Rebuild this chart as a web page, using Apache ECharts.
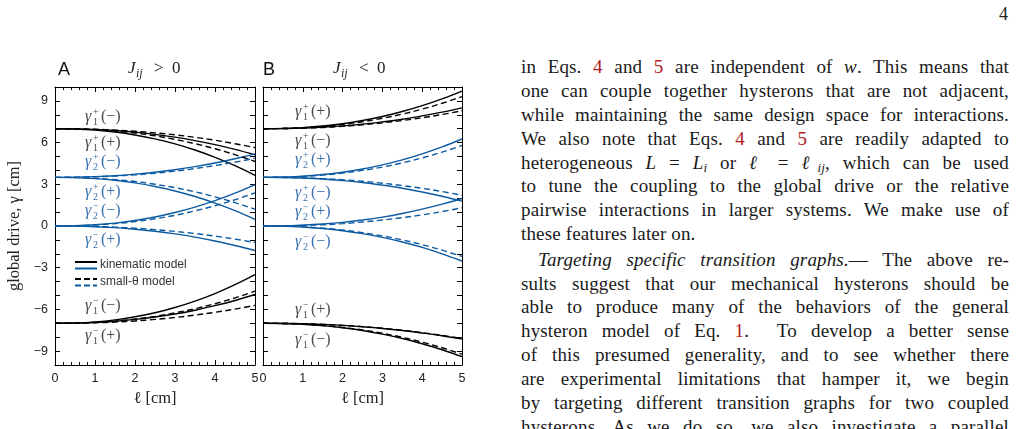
<!DOCTYPE html>
<html>
<head>
<meta charset="utf-8">
<script src="https://cdn.jsdelivr.net/npm/echarts@6/dist/echarts.min.js"></script>
<style>
  html, body { margin: 0; padding: 0; width: 1017px; height: 429px; overflow: hidden; background: #fff; }
  #chart { position: absolute; left: 0; top: 0; width: 500px; height: 429px; }
  #pageno { position: absolute; left: 999px; top: 4px; font: 18px "Liberation Serif", serif; color: #222; }
  .ln { position: absolute; left: 521px; width: 488px; height: 24px; line-height: 24px;
        font-family: "Liberation Serif", serif; font-size: 19px; letter-spacing: .15px; color: #1a1a1a;
        text-align: justify; text-align-last: justify; }
  .ln.last { text-align-last: left; }
  .r { color: #b01c1c; }
  sub { font-size: 13px; line-height: 0; vertical-align: -3px; }
</style>
</head>
<body>
<div id="chart"></div>
<div id="pageno">4</div>
<div class="ln" style="top:55px">in Eqs. <span class="r">4</span> and <span class="r">5</span> are independent of <i>w</i>. This means that</div>
<div class="ln" style="top:79px">one can couple together hysterons that are not adjacent,</div>
<div class="ln" style="top:103px">while maintaining the same design space for interactions.</div>
<div class="ln" style="top:127px">We also note that Eqs. <span class="r">4</span> and <span class="r">5</span> are readily adapted to</div>
<div class="ln" style="top:151px">heterogeneous <i>L</i> = <i>L<sub>i</sub></i> or <i>ℓ</i> = <i>ℓ<sub>ij</sub></i>, which can be used</div>
<div class="ln" style="top:174px">to tune the coupling to the global drive or the relative</div>
<div class="ln" style="top:198px">pairwise interactions in larger systems. We make use of</div>
<div class="ln last" style="top:222px">these features later on.</div>
<div class="ln" style="top:248px; left:538px; width:471px"><i>Targeting specific transition graphs.</i>— The above re-</div>
<div class="ln" style="top:272px">sults suggest that our mechanical hysterons should be</div>
<div class="ln" style="top:295px">able to produce many of the behaviors of the general</div>
<div class="ln" style="top:319px">hysteron model of Eq. <span class="r">1</span>.&nbsp; To develop a better sense</div>
<div class="ln" style="top:343px">of this presumed generality, and to see whether there</div>
<div class="ln" style="top:367px">are experimental limitations that hamper it, we begin</div>
<div class="ln" style="top:391px">by targeting different transition graphs for two coupled</div>
<div class="ln" style="top:415px">hysterons. As we do so, we also investigate a parallel</div>

<script>
  // sample positions along l [cm]
  const xs = [0, 0.5, 1, 1.5, 2, 2.5, 3, 3.5, 4, 4.5, 5];

  // panel A, J_ij > 0
  const aG1pKinA = [7, 6.99, 6.95, 6.87, 6.75, 6.59, 6.39, 6.14, 5.85, 5.51, 5.12];
  const aG1pKinB = [7, 6.98, 6.90, 6.76, 6.55, 6.27, 5.91, 5.47, 4.94, 4.34, 3.64];
  const aG1pSmA = [7, 6.99, 6.96, 6.90, 6.82, 6.70, 6.56, 6.38, 6.17, 5.92, 5.64];
  const aG1pSmB = [7, 6.99, 6.93, 6.83, 6.69, 6.49, 6.23, 5.92, 5.56, 5.13, 4.64];
  const aG2pKinUp = [3.5, 3.51, 3.55, 3.62, 3.73, 3.87, 4.05, 4.27, 4.53, 4.84, 5.19];
  const aG2pSmUp = [3.5, 3.51, 3.54, 3.60, 3.68, 3.80, 3.95, 4.13, 4.35, 4.59, 4.88];
  const aG2pKinDn = [3.5, 3.48, 3.41, 3.29, 3.10, 2.84, 2.52, 2.12, 1.65, 1.11, 0.48];
  const aG2pSmDn = [3.5, 3.49, 3.43, 3.34, 3.20, 3.00, 2.76, 2.46, 2.10, 1.68, 1.21];
  const aG2mKinUp = [0, 0.02, 0.09, 0.21, 0.40, 0.65, 0.97, 1.36, 1.82, 2.36, 2.98];
  const aG2mSmUp = [0, 0.01, 0.07, 0.17, 0.32, 0.52, 0.77, 1.09, 1.46, 1.89, 2.38];
  const aG2mKinDn = [0, -0.01, -0.05, -0.12, -0.23, -0.38, -0.57, -0.80, -1.08, -1.40, -1.76];
  const aG2mSmDn = [0, -0.01, -0.03, -0.08, -0.16, -0.26, -0.39, -0.54, -0.73, -0.94, -1.19];
  const aG1mKinA = [-7, -6.98, -6.90, -6.75, -6.53, -6.24, -5.86, -5.40, -4.86, -4.22, -3.50];
  const aG1mKinB = [-7, -6.99, -6.94, -6.85, -6.72, -6.55, -6.33, -6.06, -5.73, -5.36, -4.93];
  const aG1mSmA = [-7, -6.99, -6.93, -6.84, -6.69, -6.50, -6.25, -5.95, -5.59, -5.17, -4.69];
  const aG1mSmB = [-7, -6.99, -6.96, -6.91, -6.83, -6.72, -6.58, -6.41, -6.21, -5.98, -5.71];

  // panel B, J_ij < 0
  const bG1pKinA = [7, 7.02, 7.08, 7.19, 7.36, 7.59, 7.88, 8.24, 8.66, 9.15, 9.71];
  const bG1pSmA = [7, 7.01, 7.07, 7.16, 7.31, 7.50, 7.75, 8.05, 8.41, 8.83, 9.31];
  const bG1pKinB = [7, 7.01, 7.04, 7.11, 7.20, 7.33, 7.49, 7.68, 7.92, 8.19, 8.50];
  const bG1pSmB = [7, 7.01, 7.04, 7.09, 7.17, 7.28, 7.42, 7.59, 7.79, 8.02, 8.29];
  const bG2pKinUp = [3.5, 3.52, 3.58, 3.70, 3.87, 4.10, 4.40, 4.76, 5.19, 5.69, 6.26];
  const bG2pSmUp = [3.5, 3.51, 3.57, 3.66, 3.81, 4.00, 4.24, 4.54, 4.90, 5.32, 5.79];
  const bG2pKinDn = [3.5, 3.49, 3.45, 3.38, 3.27, 3.13, 2.94, 2.72, 2.45, 2.14, 1.79];
  const bG2pSmDn = [3.5, 3.49, 3.46, 3.41, 3.33, 3.22, 3.08, 2.91, 2.71, 2.48, 2.21];
  const bG2mKinUp = [0, 0.01, 0.06, 0.14, 0.26, 0.43, 0.64, 0.90, 1.21, 1.57, 1.98];
  const bG2mSmUp = [0, 0.01, 0.04, 0.09, 0.17, 0.29, 0.43, 0.60, 0.80, 1.04, 1.31];
  const bG2mKinDn = [0, -0.02, -0.07, -0.18, -0.34, -0.55, -0.82, -1.15, -1.54, -2.00, -2.52];
  const bG2mSmDn = [0, -0.01, -0.06, -0.16, -0.29, -0.48, -0.71, -1.00, -1.34, -1.74, -2.19];
  const bG1mKinA = [-7, -7.01, -7.03, -7.08, -7.15, -7.25, -7.37, -7.52, -7.70, -7.90, -8.14];
  const bG1mSmA = [-7, -7.01, -7.03, -7.08, -7.15, -7.24, -7.36, -7.50, -7.67, -7.87, -8.10];
  const bG1mKinB = [-7, -7.01, -7.07, -7.17, -7.32, -7.52, -7.78, -8.09, -8.47, -8.90, -9.40];
  const bG1mSmB = [-7, -7.01, -7.06, -7.16, -7.30, -7.48, -7.72, -8.01, -8.36, -8.76, -9.22];

  // curve labels: [hysteron, branch sign, state]
  const aLabels = [['1', '+', '−'], ['1', '+', '+'], ['2', '+', '−'], ['2', '+', '+'],
                   ['2', '−', '−'], ['2', '−', '+'], ['1', '−', '−'], ['1', '−', '+']];
  const bLabels = [['1', '+', '+'], ['1', '+', '−'], ['2', '+', '+'], ['2', '+', '−'],
                   ['2', '−', '+'], ['2', '−', '−'], ['1', '−', '+'], ['1', '−', '−']];

  const BLACK = '#000';
  const BLUE = '#0b5aa2';
  const GRAY_TXT = '#4a4a4a';
  const BLUE_TXT = '#3a70b0';
  const SERIF = '"Liberation Serif", "DejaVu Serif", serif';
  const SANS = '"Liberation Sans", Arial, sans-serif';

  function line(data, g, color, dashed) {
    return {
      type: 'line',
      xAxisIndex: g * 2,
      yAxisIndex: g * 2,
      data: xs.map((x, i) => [x, data[i]]),
      smooth: 0.4,
      symbol: 'none',
      silent: true,
      animation: false,
      z: dashed ? 3 : 2,
      lineStyle: { color: color, width: 1.4, type: dashed ? [6, 3.5] : 'solid' }
    };
  }

  function xAx(g, pos) {
    return {
      type: 'value', gridIndex: g, position: pos, min: 0, max: 5, interval: 1,
      name: pos === 'bottom' ? 'ℓ [cm]' : '',
      nameLocation: 'middle', nameGap: 25,
      nameTextStyle: { fontFamily: SERIF, fontSize: 16.5, color: '#222' },
      axisLine: { show: true, onZero: false, lineStyle: { color: '#000', width: 1 } },
      axisTick: { show: true, inside: true, length: 5, lineStyle: { color: '#000' } },
      minorTick: { show: true, splitNumber: 5, length: 3, lineStyle: { color: '#000' } },
      splitLine: { show: false },
      minorSplitLine: { show: false },
      axisLabel: { show: pos === 'bottom', margin: 7, color: '#222', fontSize: 12.5, fontFamily: SANS }
    };
  }

  function yAx(g, pos, labels) {
    return {
      type: 'value', gridIndex: g, position: pos, min: -10, max: 10, interval: 1,
      name: labels ? 'global drive, γ [cm]' : '',
      nameLocation: 'middle', nameGap: 32, nameRotate: 90,
      nameTextStyle: { fontFamily: SERIF, fontSize: 16.5, color: '#222' },
      axisLine: { show: true, onZero: false, lineStyle: { color: '#000', width: 1 } },
      axisTick: { show: true, inside: true, length: 5, lineStyle: { color: '#000' } },
      splitLine: { show: false },
      axisLabel: {
        show: labels, margin: 7, color: '#222', fontSize: 12.5, fontFamily: SANS,
        formatter: v => (v % 3 === 0 ? (v < 0 ? '\u2212' + (-v) : String(v)) : '')
      }
    };
  }

  function gammaLabel(x, y, lab, color) {
    return [
      { type: 'text', x: x, y: y, silent: true,
        style: { text: 'γ', font: 'italic 16px ' + SERIF, fill: color, verticalAlign: 'middle' } },
      { type: 'text', x: x + 8, y: y - 5, silent: true,
        style: { text: lab[1], font: '10px ' + SERIF, fill: color, verticalAlign: 'middle' } },
      { type: 'text', x: x + 8, y: y + 5, silent: true,
        style: { text: lab[0], font: '10px ' + SERIF, fill: color, verticalAlign: 'middle' } },
      { type: 'text', x: x + 16, y: y, silent: true,
        style: { text: '(' + lab[2] + ')', font: '16px ' + SERIF, fill: color, verticalAlign: 'middle' } }
    ];
  }

  const aLabelY = [117, 143, 162, 192, 211, 240, 306, 336];
  const bLabelY = [112, 141, 160, 193, 212, 242, 310, 340];

  let graphic = [];
  aLabels.forEach((lab, i) => {
    graphic = graphic.concat(gammaLabel(85, aLabelY[i], lab, lab[0] === '1' ? GRAY_TXT : BLUE_TXT));
  });
  bLabels.forEach((lab, i) => {
    graphic = graphic.concat(gammaLabel(295, bLabelY[i], lab, lab[0] === '1' ? GRAY_TXT : BLUE_TXT));
  });

  // panel letters and titles
  function title(x, letter, rel) {
    return [
      { type: 'text', x: x, y: 70, style: { text: letter, font: '18px ' + SANS, fill: '#111', verticalAlign: 'middle' } },
      { type: 'text', x: x + 70, y: 69, style: { text: 'J', font: 'italic 17px ' + SERIF, fill: '#222', verticalAlign: 'middle' } },
      { type: 'text', x: x + 78, y: 74, style: { text: 'ij', font: 'italic 12px ' + SERIF, fill: '#222', verticalAlign: 'middle' } },
      { type: 'text', x: x + 96, y: 69, style: { text: rel, font: '17px ' + SERIF, fill: '#222', verticalAlign: 'middle' } },
      { type: 'text', x: x + 114, y: 69, style: { text: '0', font: '17px ' + SERIF, fill: '#222', verticalAlign: 'middle' } }
    ];
  }
  graphic = graphic.concat(title(58, 'A', '>'), title(263, 'B', '<'));

  // legend
  graphic.push(
    { type: 'line', shape: { x1: 75, y1: 262, x2: 97, y2: 262 }, style: { stroke: BLACK, lineWidth: 2 } },
    { type: 'line', shape: { x1: 75, y1: 268.5, x2: 97, y2: 268.5 }, style: { stroke: BLUE, lineWidth: 2 } },
    { type: 'text', x: 100, y: 265, style: { text: 'kinematic model', font: '12px ' + SANS, fill: '#333', verticalAlign: 'middle' } },
    { type: 'line', shape: { x1: 75, y1: 279, x2: 97, y2: 279 }, style: { stroke: BLACK, lineWidth: 2, lineDash: [6, 3] } },
    { type: 'line', shape: { x1: 75, y1: 285.5, x2: 97, y2: 285.5 }, style: { stroke: BLUE, lineWidth: 2, lineDash: [6, 3] } },
    { type: 'text', x: 100, y: 282, style: { text: 'small-θ model', font: '12px ' + SANS, fill: '#333', verticalAlign: 'middle' } }
  );

  const series = [
    line(aG1pKinA, 0, BLACK, false), line(aG1pKinB, 0, BLACK, false),
    line(aG1pSmA, 0, BLACK, true), line(aG1pSmB, 0, BLACK, true),
    line(aG2pKinUp, 0, BLUE, false), line(aG2pSmUp, 0, BLUE, true),
    line(aG2pKinDn, 0, BLUE, false), line(aG2pSmDn, 0, BLUE, true),
    line(aG2mKinUp, 0, BLUE, false), line(aG2mSmUp, 0, BLUE, true),
    line(aG2mKinDn, 0, BLUE, false), line(aG2mSmDn, 0, BLUE, true),
    line(aG1mKinA, 0, BLACK, false), line(aG1mKinB, 0, BLACK, false),
    line(aG1mSmA, 0, BLACK, true), line(aG1mSmB, 0, BLACK, true),

    line(bG1pKinA, 1, BLACK, false), line(bG1pSmA, 1, BLACK, true),
    line(bG1pKinB, 1, BLACK, false), line(bG1pSmB, 1, BLACK, true),
    line(bG2pKinUp, 1, BLUE, false), line(bG2pSmUp, 1, BLUE, true),
    line(bG2pKinDn, 1, BLUE, false), line(bG2pSmDn, 1, BLUE, true),
    line(bG2mKinUp, 1, BLUE, false), line(bG2mSmUp, 1, BLUE, true),
    line(bG2mKinDn, 1, BLUE, false), line(bG2mSmDn, 1, BLUE, true),
    line(bG1mKinA, 1, BLACK, false), line(bG1mSmA, 1, BLACK, true),
    line(bG1mKinB, 1, BLACK, false), line(bG1mSmB, 1, BLACK, true)
  ];

  const chart = echarts.init(document.getElementById('chart'), null, { renderer: 'canvas' });
  chart.setOption({
    animation: false,
    backgroundColor: '#fff',
    grid: [
      { left: 55, top: 87, width: 200, height: 278 },
      { left: 263, top: 87, width: 199, height: 278 }
    ],
    xAxis: [xAx(0, 'bottom'), xAx(0, 'top'), xAx(1, 'bottom'), xAx(1, 'top')],
    yAxis: [yAx(0, 'left', true), yAx(0, 'right', false), yAx(1, 'left', false), yAx(1, 'right', false)],
    series: series,
    graphic: graphic
  });
</script>
</body>
</html>
